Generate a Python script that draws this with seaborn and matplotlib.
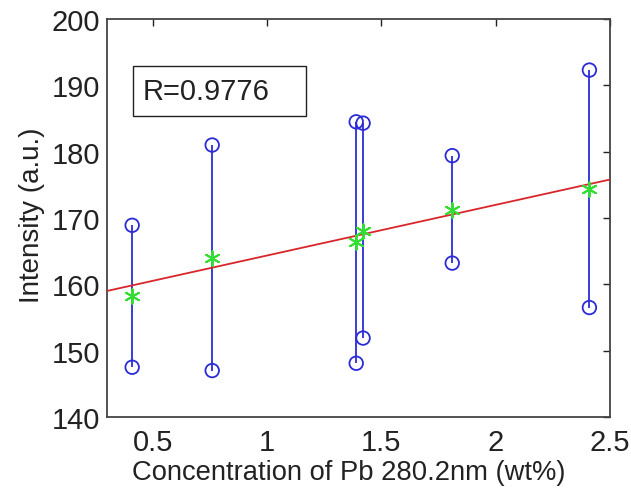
import matplotlib
matplotlib.use("Agg")
import matplotlib.pyplot as plt
from matplotlib.patches import Rectangle
import seaborn as sns
import pandas as pd

# Data
conc = [0.41, 0.76, 1.39, 1.42, 1.81, 2.41]
top_vals = [168.9, 181.0, 184.5, 184.3, 179.4, 192.3]
bottom_vals = [147.5, 147.0, 148.1, 151.9, 163.2, 156.5]
mean_vals = [158.2, 164.0, 166.4, 168.0, 171.2, 174.4]
fit_x = [0.3, 2.5]
fit_y = [159.0, 175.8]
x_ticks = [0.5, 1, 1.5, 2, 2.5]
y_ticks = [140, 150, 160, 170, 180, 190, 200]
r_label = "R=0.9776"

sns.set_style("white")
plt.rcParams['font.family'] = ['Liberation Sans', 'DejaVu Sans']

fig = plt.figure(figsize=(6.31, 4.89), dpi=100)
ax = fig.add_axes([0.1696, 0.1452, 0.7971, 0.8139])

blue = '#2b2bd6'
ax.vlines(conc, bottom_vals, top_vals, color=blue, lw=1.3, zorder=2)
pts = pd.DataFrame({'x': conc * 2, 'y': top_vals + bottom_vals})
sns.scatterplot(data=pts, x='x', y='y', ax=ax, marker='o', s=95,
                facecolors='none', edgecolor=blue, linewidth=1.3, zorder=3)
fit = pd.DataFrame({'x': fit_x, 'y': fit_y})
sns.lineplot(data=fit, x='x', y='y', ax=ax, color='#d9262b', lw=1.3, zorder=4)
mean_df = pd.DataFrame({'x': conc, 'y': mean_vals})
sns.scatterplot(data=mean_df, x='x', y='y', ax=ax, marker=(6, 2, 0), s=110,
                color='#33dd33', edgecolor='#33dd33', linewidth=1.4, zorder=5)

ax.set_xlim(0.3, 2.5)
ax.set_ylim(140, 200)
ax.set_xticks(x_ticks)
ax.set_xticklabels(['0.5', '1', '1.5', '2', '2.5'])
ax.set_yticks(y_ticks)
ax.tick_params(direction='in', top=True, right=True, length=5, width=1,
               labelsize=21, colors='#222222')
ax.tick_params(axis='x', pad=8)
ax.tick_params(axis='y', pad=5)
for s in ax.spines.values():
    s.set_color('#444444')
    s.set_linewidth(1.3)
ax.set_xlabel('Concentration of Pb 280.2nm (wt%)', fontsize=19.7, color='#222222')
ax.set_ylabel('Intensity (a.u.)', fontsize=20, color='#222222')
ax.xaxis.set_label_coords(0.481, -0.105)
ax.yaxis.set_label_coords(-0.123, 0.51)

ax.add_patch(Rectangle((0.415, 185.4), 0.755, 7.5, facecolor='white',
                       edgecolor='#222222', lw=1.0, zorder=6))
ax.text(0.455, 189.1, r_label, fontsize=21, color='#222222', va='center', ha='left',
        zorder=7)

fig.savefig('out.png', dpi=100)
